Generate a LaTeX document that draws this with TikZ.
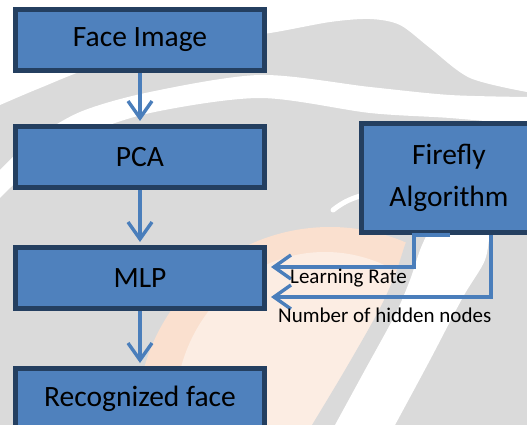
\documentclass[tikz,border=0pt]{standalone}
\usepackage{fontspec}
\setmainfont{Carlito}
\usetikzlibrary{arrows.meta,calc}
\definecolor{boxfill}{HTML}{4F81BD}
\definecolor{boxline}{HTML}{243F60}
\definecolor{linkblue}{HTML}{4A7EBB}
\definecolor{wmgrey}{HTML}{DADADA}
\definecolor{wmpeach}{HTML}{FAE0CF}
\definecolor{wmpale}{HTML}{FCEDE3}

\begin{document}
\begin{tikzpicture}[x=1pt,y=-1pt,
  stage/.style={draw=boxline, fill=boxfill, line width=5pt,
    minimum width=249pt, minimum height=61pt, inner sep=0pt,
    font=\fontsize{29.5}{36}\selectfont, text=black},
  conn/.style={draw=linkblue, line width=3.4pt},
  flow/.style={conn, -{Straight Barb[length=17pt,width=24pt,line width=3.4pt]}},
  lbl/.style={font=\fontsize{21}{25}\selectfont, anchor=base west, inner sep=0pt}]
\useasboundingbox (0,0) rectangle (527,425);
\clip (0,0) rectangle (527,425);

% faint background emblem
\fill[wmgrey] (0,0) rectangle (527,425);
\fill[white] (0,0) -- plot[smooth] coordinates {(0,105) (40,88) (100,65) (200,42) (270,33) (330,22) (370,19) (400,25) (430,48) (470,78) (527,92)} -- (527,0) -- cycle;
\fill[white] plot[smooth] coordinates {(0,170) (30,142) (80,112) (150,92) (260,75) (370,87) (450,95) (527,97)}
  -- plot[smooth] coordinates {(527,125) (450,118) (370,113) (260,98) (150,113) (80,137) (30,170) (0,198)} -- cycle;
\fill[wmpeach] (330,420) circle[radius=193];
\fill[wmpale] (325,412) ellipse[x radius=150, y radius=160];
\fill[wmgrey] plot[smooth] coordinates {(312,425) (345,370) (378,312) (395,275) (405,245) (415,220)} -- (527,215) -- (527,425) -- cycle;
\fill[white] plot[smooth] coordinates {(335,425) (365,370) (395,315) (410,280) (420,250) (430,228)}
  -- plot[smooth] coordinates {(490,228) (485,260) (463,297) (430,360) (395,425)} -- cycle;
\draw[white, line width=5pt, line cap=round] (333,210) to[bend left=10] (360,196);

% process boxes
\node[stage] (face) at (140,40) {Face Image};
\node[stage] (pca) at (140,157) {PCA};
\node[stage] (mlp) at (140,278) {MLP};
\node[stage] (rec) at (140,399) {Recognized face};
\node[stage, minimum width=175pt, minimum height=109pt, align=center,
  font=\fontsize{29.5}{42}\selectfont] (ff) at (449,178) {Firefly\\Algorithm};

% main flow
\draw[flow] (face.south) -- ([yshift=3pt]pca.north);
\draw[flow] (pca.south) -- ([yshift=3pt]mlp.north);
\draw[flow] (mlp.south) -- ([yshift=3pt]rec.north);

% parameter feeds from the optimiser
\draw[flow] ([xshift=1pt]ff.south) -- ([xshift=-35pt]ff.south) |- ([xshift=4pt,yshift=11pt]mlp.east);
\draw[flow] ([xshift=42pt]ff.south) |- ([xshift=4pt,yshift=-19pt]mlp.east);

\node[lbl] (lr) at (290,283) {Learning Rate};
\node[lbl] (nh) at (278,322.5) {Number of hidden nodes};
\end{tikzpicture}
\end{document}
